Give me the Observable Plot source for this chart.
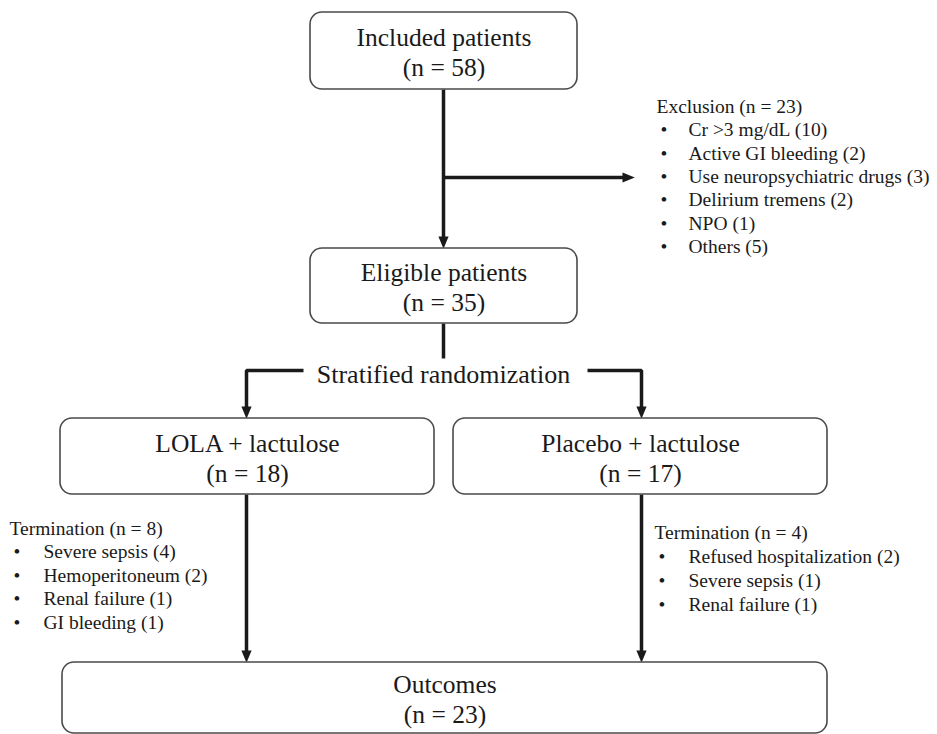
<!DOCTYPE html>
<html>
<head>
<meta charset="utf-8">
<script src="https://cdn.jsdelivr.net/npm/d3@7"></script>
<script src="https://cdn.jsdelivr.net/npm/@observablehq/plot@0.6"></script>
<style>
  html, body { margin: 0; padding: 0; background: #fff; }
  #chart { width: 937px; height: 734px; }
</style>
</head>
<body>
<div id="chart"></div>
<script>
// ---------- data ----------
const boxLabels = ["Included patients", "Eligible patients", "LOLA + lactulose", "Placebo + lactulose", "Outcomes"];
const boxCounts = [58, 35, 18, 17, 23];
const randomizationLabel = "Stratified randomization";

const exclusionReasons = ["Cr >3 mg/dL", "Active GI bleeding", "Use neuropsychiatric drugs", "Delirium tremens", "NPO", "Others"];
const exclusionCounts = [10, 2, 3, 2, 1, 5];

const lolaTerminationReasons = ["Severe sepsis", "Hemoperitoneum", "Renal failure", "GI bleeding"];
const lolaTerminationCounts = [4, 2, 1, 1];

const placeboTerminationReasons = ["Refused hospitalization", "Severe sepsis", "Renal failure"];
const placeboTerminationCounts = [2, 1, 1];

// ---------- layout (positions only) ----------
const boxX1 = [310, 310, 60, 453, 62];
const boxX2 = [577, 577, 434, 827, 827];
const boxY1 = [12, 248, 418, 418, 662];
const boxY2 = [89, 323, 494, 494, 733];

const listLayout = [
  {header: "Exclusion", x: 656, y: 106, dy: 23.4, bx: 4, tx: 32},
  {header: "Termination", x: 9, y: 528, dy: 23.5, bx: 4, tx: 34},
  {header: "Termination", x: 654, y: 532, dy: 24, bx: 4, tx: 34}
];

const paths = [
  {id: "a", pts: [[443, 89], [443, 238]], head: "down"},
  {id: "b", pts: [[443, 177], [624, 177]], head: "right"},
  {id: "c", pts: [[443, 323], [443, 358]], head: null},
  {id: "d", pts: [[303, 370], [246, 370], [246, 408]], head: "down"},
  {id: "e", pts: [[587, 370], [641, 370], [641, 408]], head: "down"},
  {id: "f", pts: [[246, 494], [246, 652]], head: "down"},
  {id: "g", pts: [[641, 494], [641, 652]], head: "down"}
];

// ---------- derived tables ----------
const boxes = boxLabels.map((label, i) => ({
  label, n: `(n = ${boxCounts[i]})`,
  x1: boxX1[i], x2: boxX2[i], y1: boxY1[i], y2: boxY2[i],
  cx: (boxX1[i] + boxX2[i]) / 2, cy: (boxY1[i] + boxY2[i]) / 2
}));

const lists = [
  [exclusionReasons, exclusionCounts],
  [lolaTerminationReasons, lolaTerminationCounts],
  [placeboTerminationReasons, placeboTerminationCounts]
];
const headers = [];
const items = [];
lists.forEach(([reasons, counts], k) => {
  const L = listLayout[k];
  headers.push({x: L.x, y: L.y, text: `${L.header} (n = ${d3.sum(counts)})`});
  reasons.forEach((r, i) => items.push({
    bx: L.x + L.bx, tx: L.x + L.tx, y: L.y + L.dy * (i + 1), text: `${r} (${counts[i]})`
  }));
});

const linePts = paths.flatMap(p => p.pts.map(([x, y]) => ({id: p.id, x, y})));
const heads = paths.filter(p => p.head).map(p => {
  const [x, y] = p.pts[p.pts.length - 1];
  return {x, y, head: p.head};
});

// custom filled triangle symbols
const triDown = {draw(ctx, size) {
  const s = Math.sqrt(size / Math.PI);
  ctx.moveTo(-0.85 * s, -s); ctx.lineTo(0.85 * s, -s); ctx.lineTo(0, s * 1.05); ctx.closePath();
}};
const triRight = {draw(ctx, size) {
  const s = Math.sqrt(size / Math.PI);
  ctx.moveTo(-s, -0.85 * s); ctx.lineTo(-s, 0.85 * s); ctx.lineTo(s * 1.05, 0); ctx.closePath();
}};

const font = "Liberation Serif, DejaVu Serif, Times New Roman, serif";
const ink = "#1a1a1a";
const listSize = 19.5;

const chart = Plot.plot({
  width: 937,
  height: 734,
  margin: 0,
  x: {domain: [0, 937], range: [0, 937], axis: null},
  y: {domain: [0, 734], range: [0, 734], axis: null},
  style: {background: "#fff", fontFamily: font},
  marks: [
    Plot.line(linePts, {x: "x", y: "y", z: "id", stroke: ink, strokeWidth: 3.5, strokeLinejoin: "miter", strokeLinecap: "butt"}),
    Plot.dot(heads.filter(d => d.head === "down"), {x: "x", y: d => d.y + 4, symbol: triDown, r: 6, fill: ink, stroke: "none"}),
    Plot.dot(heads.filter(d => d.head === "right"), {x: d => d.x + 4, y: "y", symbol: triRight, r: 6, fill: ink, stroke: "none"}),
    Plot.rect(boxes, {x1: "x1", x2: "x2", y1: "y1", y2: "y2", rx: 12, fill: "#fff", stroke: "#4a4a4a", strokeWidth: 1.6}),
    Plot.text(boxes, {x: "cx", y: d => d.cy - 13, text: "label", fontSize: 25.5, fontFamily: font, fill: ink}),
    Plot.text(boxes, {x: "cx", y: d => d.cy + 17, text: "n", fontSize: 25.5, fontFamily: font, fill: ink}),
    Plot.text([randomizationLabel], {x: 443, y: 374, text: d => d, fontSize: 26, fontFamily: font, fill: ink}),
    Plot.text(headers, {x: "x", y: "y", text: "text", textAnchor: "start", fontSize: listSize, fontFamily: font, fill: ink}),
    Plot.text(items, {x: "bx", y: "y", text: () => "•", textAnchor: "start", fontSize: listSize, fontFamily: font, fill: ink}),
    Plot.text(items, {x: "tx", y: "y", text: "text", textAnchor: "start", fontSize: listSize, fontFamily: font, fill: ink})
  ]
});

document.getElementById("chart").appendChild(chart);
</script>
</body>
</html>
